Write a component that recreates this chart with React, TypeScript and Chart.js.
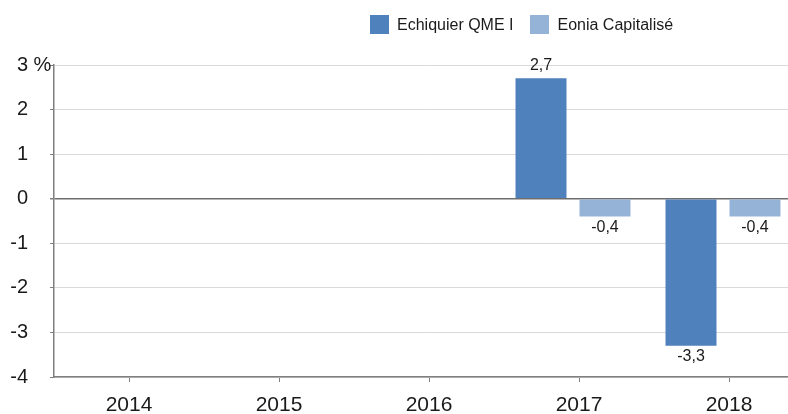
import React, { useEffect, useRef } from 'react';
import { Chart, registerables } from 'chart.js';

Chart.register(...registerables);

// Years on the horizontal axis
const years = ['2014', '2015', '2016', '2017', '2018'];
// Annual performance, in %
const qmeValues: (number | null)[] = [null, null, null, 2.7, -3.3];
const eoniaValues: (number | null)[] = [null, null, null, -0.4, -0.4];
const seriesNames = ['Echiquier QME I', 'Eonia Capitalisé'];
const seriesColors = ['#4f81bd', '#95b3d7'];
// Vertical axis range and unit
const yMin = -4;
const yMax = 3;
const yUnit = '%';

const FONT = "'Liberation Sans', Arial, sans-serif";
const TEXT = '#1a1a1a';
const AXIS = '#7f7f7f';
// each year's pair of bars sits slightly left of its year tick
const GROUP_SHIFT = 0.04;
const Y_TICK_LEN = 4;
const Y_TICK_PAD = 22;

const fmt = (v: number) => v.toFixed(1).replace('.', ',');

export default function App() {
  const ref = useRef<HTMLCanvasElement>(null);

  useEffect(() => {
    const canvas = ref.current;
    if (!canvas) return;

    const valueLabels = {
      id: 'valueLabels',
      afterDatasetsDraw(chart: any) {
        const ctx = chart.ctx;
        ctx.save();
        ctx.font = `16px ${FONT}`;
        ctx.fillStyle = TEXT;
        ctx.textAlign = 'center';
        ctx.textBaseline = 'middle';
        chart.data.datasets.forEach((ds: any, di: number) => {
          chart.getDatasetMeta(di).data.forEach((el: any, i: number) => {
            const v = ds.data[i].y;
            if (v == null) return;
            const y = v >= 0 ? el.y - 13 : el.y + 11;
            ctx.fillText(fmt(v), el.x, y);
          });
        });
        ctx.restore();
      },
    };

    const unitLabel = {
      id: 'unitLabel',
      afterDraw(chart: any) {
        const s = chart.scales.y;
        const ctx = chart.ctx;
        ctx.save();
        ctx.font = `20px ${FONT}`;
        ctx.fillStyle = TEXT;
        ctx.textAlign = 'left';
        ctx.textBaseline = 'middle';
        ctx.fillText(' ' + yUnit, s.right - Y_TICK_LEN - Y_TICK_PAD, s.getPixelForValue(yMax));
        ctx.restore();
      },
    };

    const chart = new Chart(canvas, {
      type: 'bar',
      data: {
        labels: years,
        datasets: [
          {
            label: seriesNames[0],
            data: years.map((_, i) => ({ x: i, y: qmeValues[i] })) as any,
            backgroundColor: seriesColors[0],
            xAxisID: 'xb',
            yAxisID: 'y',
          },
          {
            label: seriesNames[1],
            data: years.map((_, i) => ({ x: i, y: eoniaValues[i] })) as any,
            backgroundColor: seriesColors[1],
            xAxisID: 'xb',
            yAxisID: 'y',
          },
        ],
      },
      options: {
        responsive: false,
        animation: false,
        layout: { padding: { top: 65, right: 6, bottom: 0, left: 0 } },
        plugins: {
          legend: { display: false },
          tooltip: { enabled: false },
        },
        datasets: {
          bar: { categoryPercentage: 0.853, barPercentage: 0.797 },
        },
        scales: {
          x: {
            type: 'category',
            position: 'bottom',
            offset: true,
            border: { color: AXIS, width: 1.5 },
            grid: {
              offset: false,
              drawOnChartArea: false,
              drawTicks: true,
              tickLength: 5,
              color: AXIS,
            },
            ticks: {
              font: { family: FONT, size: 21 },
              color: TEXT,
              padding: 11,
              maxRotation: 0,
            },
            afterFit: (s: any) => {
              s.height = 37;
            },
          },
          xb: {
            type: 'linear',
            axis: 'x',
            position: 'bottom',
            display: false,
            offset: false,
            grid: { offset: false },
            min: -0.5 + GROUP_SHIFT,
            max: years.length - 0.5 + GROUP_SHIFT,
            afterBuildTicks: (s: any) => {
              s.ticks = years.map((_, i) => ({ value: i }));
            },
          } as any,
          y: {
            min: yMin,
            max: yMax,
            border: { color: AXIS, width: 1.5 },
            grid: {
              color: (c: any) => (c.tick && c.tick.value === 0 ? '#6e6e6e' : '#d9d9d9'),
              lineWidth: (c: any) => (c.tick && c.tick.value === 0 ? 1.5 : 1),
              tickColor: AXIS,
              tickLength: Y_TICK_LEN,
            } as any,
            ticks: {
              stepSize: 1,
              font: { family: FONT, size: 20 },
              color: TEXT,
              padding: Y_TICK_PAD,
              callback: (v: any) => String(v),
            },
            afterFit: (s: any) => {
              s.width = 54;
            },
          },
        },
      } as any,
      plugins: [valueLabels, unitLabel],
    });

    return () => chart.destroy();
  }, []);

  const legendItem = (i: number, first: boolean) => (
    <div
      key={i}
      style={{ display: 'flex', alignItems: 'center', marginLeft: first ? 0 : 17 }}
    >
      <div style={{ width: 19, height: 19, background: seriesColors[i] }} />
      <span style={{ marginLeft: 8, fontSize: 16, color: TEXT, lineHeight: '19px' }}>
        {seriesNames[i]}
      </span>
    </div>
  );

  return (
    <div
      style={{
        position: 'fixed',
        left: 0,
        top: 0,
        width: 788,
        height: 414,
        overflow: 'hidden',
        background: '#ffffff',
        fontFamily: FONT,
      }}
    >
      <canvas
        ref={ref}
        width={810}
        height={414}
        style={{ position: 'absolute', left: 0, top: 0, width: 810, height: 414 }}
      />
      <div style={{ position: 'absolute', left: 370, top: 15, display: 'flex' }}>
        {seriesNames.map((_, i) => legendItem(i, i === 0))}
      </div>
    </div>
  );
}
